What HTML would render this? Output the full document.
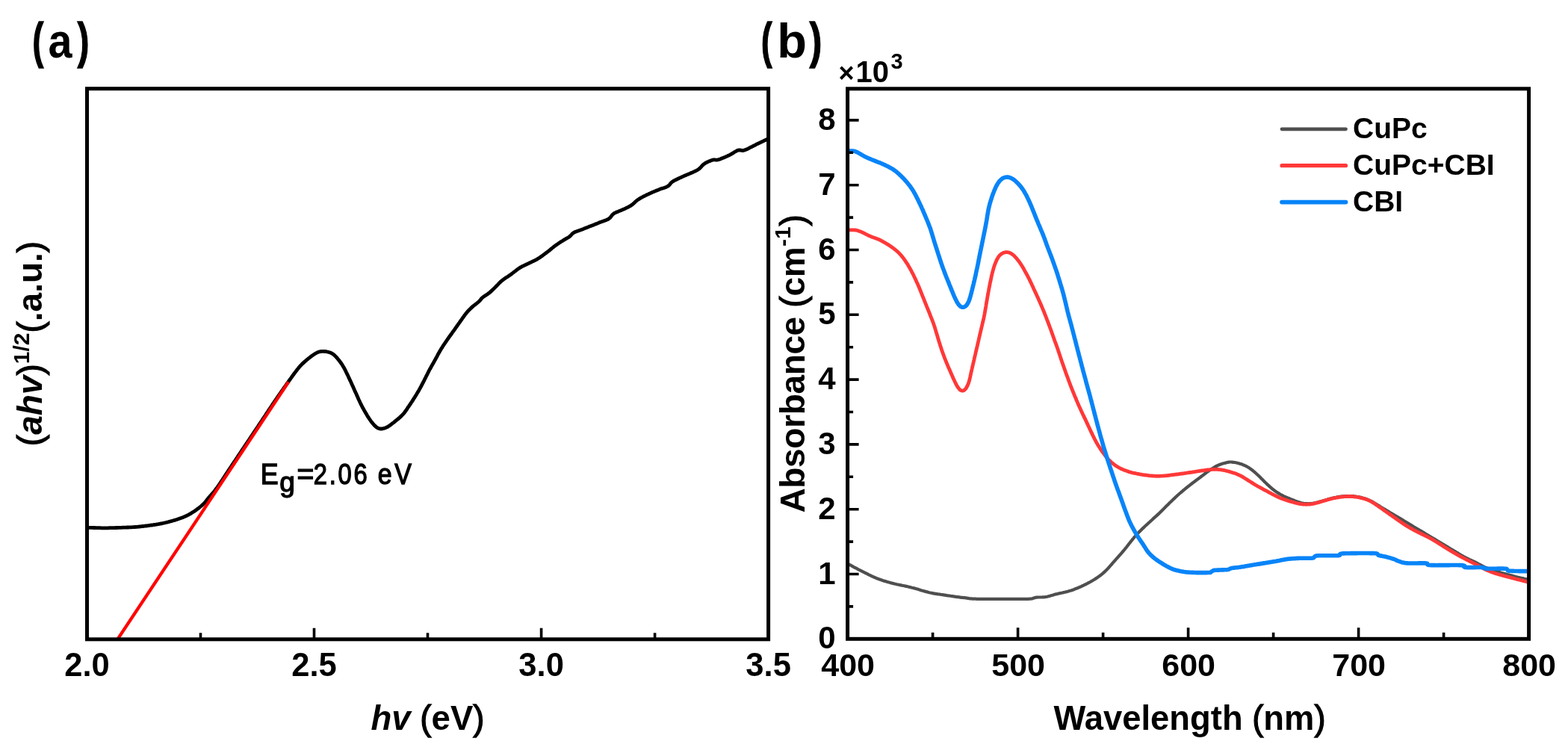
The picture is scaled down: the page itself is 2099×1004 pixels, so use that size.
<!DOCTYPE html><html><head><meta charset="utf-8"><style>html,body{margin:0;padding:0;background:#fff;overflow:hidden}svg{display:block}</style></head><body><svg width="2099" height="1004" viewBox="0 0 2099 1004" font-family="'Liberation Sans', Arial, Helvetica, sans-serif" font-weight="bold" fill="#000"><rect width="2099" height="1004" fill="#fff"/><defs><clipPath id="ca"><rect x="116.5" y="118.7" width="912.1" height="737.1"/></clipPath><clipPath id="cb"><rect x="1134.6" y="118.8" width="912.0" height="736.5"/></clipPath></defs><g clip-path="url(#ca)" fill="none" stroke-linejoin="round" stroke-linecap="round"><path d="M114.6,706.3L116.1,706.3 117.6,706.3 119.1,706.3 120.6,706.3 122.1,706.4 123.6,706.4 125.1,706.5 126.6,706.5 128.1,706.6 129.6,706.6 131.1,706.7 132.6,706.7 134.1,706.7 135.6,706.8 137.1,706.8 138.6,706.8 140.1,706.8 141.6,706.8 143.1,706.8 144.6,706.8 146.1,706.7 147.6,706.7 149.1,706.7 150.6,706.6 152.1,706.6 153.6,706.6 155.1,706.5 156.6,706.5 158.1,706.4 159.6,706.4 161.1,706.3 162.6,706.3 164.1,706.2 165.6,706.2 167.1,706.1 168.6,706.1 170.1,706.0 171.6,706.0 173.1,705.9 174.6,705.8 176.1,705.8 177.6,705.7 179.1,705.6 180.6,705.5 182.1,705.4 183.6,705.3 185.1,705.1 186.6,705.0 188.1,704.9 189.6,704.7 191.1,704.5 192.5,704.4 194.0,704.2 195.5,704.0 197.0,703.8 198.5,703.6 200.0,703.4 201.5,703.2 203.0,703.0 204.4,702.8 205.9,702.5 207.4,702.3 208.9,702.1 210.4,701.8 211.8,701.6 213.3,701.3 214.8,701.0 216.3,700.8 217.7,700.5 219.2,700.2 220.7,699.8 222.1,699.5 223.6,699.1 225.0,698.8 226.5,698.4 227.9,698.0 229.4,697.6 230.8,697.2 232.3,696.8 233.7,696.4 235.1,695.9 236.6,695.5 238.0,695.0 239.4,694.5 240.8,694.0 242.3,693.5 243.7,693.0 245.1,692.5 246.4,691.9 247.8,691.3 249.2,690.7 250.5,690.0 251.9,689.3 253.2,688.6 254.5,687.9 255.8,687.1 257.1,686.3 258.3,685.5 259.6,684.7 260.8,683.9 262.1,683.0 263.3,682.1 264.5,681.3 265.7,680.3 266.9,679.4 268.0,678.5 269.2,677.5 270.3,676.5 271.4,675.5 272.5,674.5 273.6,673.4 274.6,672.3 275.6,671.2 276.5,670.0 277.4,668.8 278.3,667.6 279.3,666.4 280.2,665.3 281.2,664.2 282.2,663.0 283.2,661.9 284.2,660.8 285.2,659.7 286.2,658.5 287.1,657.4 288.0,656.2 288.9,655.0 289.8,653.8 290.7,652.6 291.6,651.3 292.4,650.1 293.3,648.9 294.1,647.6 295.0,646.4 295.8,645.1 296.6,643.9 297.5,642.7 298.3,641.4 299.1,640.2 299.9,638.9 300.8,637.6 301.6,636.4 302.4,635.1 303.2,633.9 304.1,632.6 304.9,631.4 305.7,630.1 306.5,628.9 307.4,627.6 308.2,626.4 309.0,625.1 309.9,623.9 310.7,622.6 311.5,621.4 312.4,620.1 313.2,618.9 314.0,617.6 314.9,616.4 315.7,615.2 316.5,613.9 317.4,612.7 318.2,611.4 319.0,610.2 319.9,608.9 320.7,607.7 321.5,606.4 322.4,605.2 323.2,603.9 324.0,602.7 324.9,601.4 325.7,600.2 326.5,598.9 327.4,597.7 328.2,596.4 329.0,595.2 329.9,594.0 330.7,592.7 331.5,591.5 332.4,590.2 333.2,589.0 334.0,587.7 334.9,586.5 335.7,585.2 336.5,584.0 337.4,582.7 338.2,581.5 339.0,580.2 339.9,579.0 340.7,577.7 341.5,576.5 342.4,575.2 343.2,574.0 344.0,572.8 344.9,571.5 345.7,570.3 346.5,569.0 347.4,567.8 348.2,566.5 349.0,565.3 349.9,564.0 350.7,562.8 351.5,561.5 352.4,560.3 353.2,559.0 354.0,557.8 354.9,556.5 355.7,555.3 356.5,554.0 357.4,552.8 358.2,551.5 359.0,550.3 359.8,549.0 360.7,547.8 361.5,546.5 362.3,545.3 363.2,544.0 364.0,542.8 364.8,541.5 365.7,540.3 366.5,539.1 367.3,537.8 368.2,536.6 369.0,535.3 369.9,534.1 370.7,532.9 371.6,531.6 372.4,530.4 373.3,529.1 374.1,527.9 375.0,526.7 375.8,525.5 376.7,524.2 377.6,523.0 378.4,521.8 379.3,520.5 380.2,519.3 381.0,518.1 381.9,516.9 382.8,515.6 383.6,514.4 384.5,513.2 385.4,512.0 386.2,510.7 387.1,509.5 388.0,508.3 388.8,507.1 389.7,505.9 390.6,504.6 391.4,503.4 392.3,502.2 393.2,501.0 394.1,499.8 395.0,498.6 395.9,497.4 396.8,496.2 397.7,495.0 398.7,493.8 399.6,492.7 400.5,491.5 401.5,490.4 402.5,489.2 403.6,488.2 404.6,487.1 405.7,486.1 406.8,485.1 407.9,484.1 409.1,483.1 410.2,482.1 411.4,481.2 412.5,480.2 413.7,479.3 414.9,478.4 416.1,477.4 417.3,476.5 418.5,475.7 419.7,474.8 421.0,474.0 422.3,473.2 423.6,472.5 424.9,471.8 426.3,471.3 427.8,470.8 429.2,470.5 430.7,470.4 432.2,470.3 433.7,470.4 435.2,470.5 436.7,470.7 438.2,471.0 439.6,471.3 441.1,471.7 442.5,472.2 443.9,472.9 445.2,473.6 446.4,474.5 447.5,475.4 448.6,476.5 449.7,477.5 450.7,478.7 451.7,479.8 452.6,480.9 453.6,482.1 454.5,483.3 455.4,484.5 456.3,485.7 457.1,486.9 458.0,488.2 458.8,489.5 459.5,490.7 460.3,492.0 461.0,493.3 461.7,494.7 462.4,496.0 463.1,497.4 463.7,498.7 464.4,500.1 465.0,501.4 465.7,502.8 466.3,504.1 466.9,505.5 467.6,506.8 468.2,508.2 468.8,509.6 469.5,510.9 470.1,512.3 470.7,513.6 471.3,515.0 471.9,516.4 472.6,517.7 473.2,519.1 473.8,520.5 474.4,521.9 475.0,523.2 475.6,524.6 476.3,526.0 476.9,527.3 477.5,528.7 478.1,530.1 478.7,531.4 479.3,532.8 479.9,534.2 480.5,535.5 481.2,536.9 481.8,538.3 482.4,539.6 483.1,541.0 483.8,542.3 484.4,543.6 485.1,545.0 485.8,546.3 486.6,547.6 487.3,548.9 488.0,550.2 488.8,551.5 489.5,552.8 490.3,554.1 491.1,555.4 491.8,556.7 492.6,558.0 493.5,559.2 494.3,560.5 495.1,561.7 496.0,563.0 496.8,564.2 497.8,565.4 498.7,566.5 499.7,567.7 500.7,568.8 501.7,569.9 502.8,570.9 504.0,571.9 505.2,572.7 506.5,573.4 508.0,573.8 509.4,574.0 510.9,574.0 512.4,573.8 513.9,573.4 515.3,572.9 516.7,572.4 518.1,571.8 519.4,571.1 520.7,570.3 521.9,569.4 523.1,568.6 524.3,567.7 525.5,566.7 526.7,565.8 527.9,564.9 529.0,563.9 530.2,563.0 531.3,562.0 532.5,561.1 533.6,560.1 534.8,559.1 535.9,558.1 537.0,557.1 538.0,556.0 539.1,555.0 540.1,553.9 541.1,552.7 542.0,551.5 542.9,550.3 543.7,549.1 544.6,547.8 545.4,546.6 546.2,545.3 547.1,544.1 547.9,542.9 548.8,541.6 549.6,540.4 550.4,539.1 551.3,537.9 552.1,536.6 552.9,535.4 553.7,534.1 554.5,532.8 555.3,531.6 556.1,530.3 556.9,529.0 557.7,527.7 558.4,526.4 559.2,525.1 560.0,523.9 560.7,522.6 561.4,521.2 562.2,519.9 562.9,518.6 563.6,517.3 564.3,516.0 565.0,514.7 565.7,513.3 566.4,512.0 567.1,510.7 567.8,509.3 568.4,508.0 569.1,506.6 569.8,505.3 570.4,504.0 571.1,502.6 571.8,501.3 572.5,499.9 573.2,498.6 573.8,497.3 574.5,495.9 575.2,494.6 576.0,493.3 576.7,492.0 577.4,490.7 578.1,489.4 578.9,488.1 579.6,486.7 580.4,485.4 581.1,484.1 581.8,482.8 582.6,481.5 583.3,480.2 584.0,478.9 584.7,477.6 585.4,476.3 586.1,474.9 586.8,473.6 587.6,472.3 588.3,471.0 589.0,469.7 589.8,468.4 590.6,467.1 591.4,465.8 592.2,464.6 593.0,463.3 593.8,462.0 594.6,460.8 595.5,459.5 596.3,458.3 597.2,457.1 598.0,455.8 598.9,454.6 599.7,453.4 600.6,452.1 601.4,450.9 602.3,449.7 603.2,448.5 604.1,447.3 605.0,446.1 605.8,444.8 606.7,443.6 607.6,442.4 608.5,441.2 609.3,440.0 610.2,438.7 611.0,437.5 611.9,436.3 612.8,435.0 613.6,433.8 614.5,432.6 615.4,431.4 616.2,430.2 617.1,428.9 618.0,427.7 618.8,426.5 619.7,425.2 620.6,424.0 621.4,422.8 622.3,421.6 623.2,420.4 624.2,419.2 625.1,418.1 626.1,416.9 627.1,415.8 628.2,414.8 629.2,413.7 630.3,412.6 631.4,411.6 632.5,410.6 633.6,409.6 634.8,408.7 636.0,407.8 637.2,406.8 638.4,405.9 639.5,405.0 640.7,404.0 641.8,403.0 642.8,401.9 643.7,400.7 644.6,399.5 645.7,398.5 646.9,397.5 648.1,396.7 649.4,395.9 650.6,395.1 651.9,394.2 653.1,393.4 654.3,392.5 655.5,391.6 656.6,390.6 657.7,389.6 658.8,388.6 659.9,387.5 661.0,386.5 662.1,385.4 663.1,384.4 664.2,383.3 665.2,382.2 666.3,381.1 667.3,380.0 668.4,379.0 669.4,377.9 670.5,376.9 671.7,375.9 672.8,375.0 674.0,374.1 675.2,373.2 676.5,372.3 677.7,371.5 679.0,370.7 680.2,369.9 681.5,369.0 682.7,368.2 684.0,367.3 685.2,366.5 686.4,365.5 687.5,364.6 688.7,363.7 689.9,362.8 691.1,361.8 692.3,360.9 693.5,360.1 694.7,359.2 696.0,358.4 697.3,357.6 698.6,356.9 699.9,356.2 701.3,355.6 702.6,354.9 704.0,354.3 705.3,353.7 706.7,353.0 708.1,352.4 709.4,351.7 710.8,351.1 712.1,350.4 713.5,349.8 714.8,349.1 716.2,348.5 717.5,347.8 718.8,347.1 720.1,346.3 721.4,345.5 722.6,344.7 723.9,343.8 725.1,343.0 726.3,342.1 727.5,341.2 728.7,340.3 729.9,339.4 731.1,338.5 732.3,337.6 733.5,336.7 734.7,335.8 735.9,334.8 737.0,333.9 738.2,332.9 739.3,332.0 740.5,331.0 741.7,330.1 742.9,329.2 744.1,328.3 745.3,327.5 746.6,326.6 747.8,325.8 749.1,324.9 750.3,324.1 751.6,323.3 752.9,322.5 754.1,321.7 755.4,320.9 756.7,320.2 758.0,319.4 759.3,318.7 760.6,318.0 761.9,317.1 763.0,316.2 764.1,315.1 765.1,314.0 766.1,312.9 767.3,312.0 768.5,311.2 769.9,310.5 771.3,310.0 772.7,309.4 774.1,308.9 775.5,308.4 776.9,307.9 778.3,307.4 779.7,306.9 781.1,306.4 782.5,305.8 783.9,305.3 785.3,304.7 786.7,304.2 788.1,303.6 789.5,303.1 790.9,302.5 792.3,302.0 793.7,301.4 795.1,300.9 796.5,300.3 797.9,299.7 799.3,299.2 800.7,298.6 802.0,298.0 803.4,297.5 804.8,297.0 806.3,296.5 807.7,296.0 809.1,295.5 810.5,294.9 811.9,294.4 813.3,293.8 814.6,293.1 815.8,292.2 816.9,291.2 817.9,290.0 818.7,288.8 819.7,287.7 820.7,286.6 821.9,285.7 823.3,285.0 824.6,284.3 826.0,283.7 827.4,283.2 828.8,282.6 830.2,282.1 831.6,281.5 832.9,280.9 834.3,280.3 835.7,279.7 837.0,279.1 838.4,278.4 839.7,277.8 841.1,277.1 842.4,276.4 843.7,275.7 845.0,274.9 846.2,274.0 847.4,273.1 848.5,272.0 849.6,271.0 850.6,270.0 851.8,269.0 852.9,268.0 854.2,267.2 855.4,266.4 856.7,265.6 858.0,264.8 859.3,264.1 860.7,263.4 862.0,262.7 863.3,262.1 864.7,261.4 866.0,260.7 867.4,260.1 868.7,259.5 870.1,258.9 871.5,258.2 872.9,257.6 874.2,257.1 875.6,256.5 877.0,255.9 878.4,255.3 879.8,254.7 881.2,254.2 882.6,253.6 884.0,253.1 885.4,252.6 886.8,252.1 888.2,251.7 889.6,251.2 891.0,250.7 892.4,250.1 893.8,249.4 895.0,248.6 896.1,247.5 897.0,246.4 897.9,245.2 899.0,244.1 900.2,243.2 901.5,242.4 902.8,241.7 904.1,241.0 905.5,240.3 906.8,239.7 908.2,239.0 909.5,238.4 910.9,237.8 912.2,237.1 913.6,236.5 915.0,235.9 916.3,235.3 917.7,234.7 919.1,234.1 920.5,233.5 921.9,233.0 923.3,232.4 924.6,231.8 926.0,231.2 927.4,230.6 928.8,230.0 930.1,229.3 931.5,228.7 932.8,228.0 934.1,227.2 935.3,226.4 936.5,225.5 937.6,224.4 938.6,223.3 939.6,222.2 940.6,221.1 941.7,220.1 942.9,219.2 944.2,218.4 945.5,217.7 946.9,217.0 948.2,216.4 949.6,215.8 951.0,215.2 952.4,214.6 953.8,214.2 955.3,213.9 956.8,213.9 958.2,214.1 959.7,214.1 961.2,213.8 962.6,213.4 964.0,212.9 965.5,212.4 966.8,211.8 968.2,211.3 969.6,210.7 971.0,210.1 972.4,209.5 973.8,208.9 975.1,208.2 976.5,207.6 977.8,206.9 979.1,206.2 980.4,205.4 981.7,204.6 982.9,203.8 984.2,203.0 985.5,202.3 986.8,201.6 988.2,201.1 989.7,200.8 991.2,201.0 992.7,201.3 994.2,201.5 995.7,201.3 997.1,200.9 998.5,200.3 999.9,199.7 1001.2,199.1 1002.6,198.4 1003.9,197.7 1005.2,197.0 1006.6,196.3 1007.9,195.6 1009.2,195.0 1010.6,194.3 1011.9,193.6 1013.2,192.9 1014.6,192.3 1016.0,191.6 1017.3,191.0 1018.7,190.4 1020.0,189.7 1021.4,189.1 1022.7,188.4 1024.1,187.8 1025.4,187.1 1026.8,186.5 1028.1,185.8 1029.5,185.2 1030.8,184.6 1031.5,184.3" stroke="#000" stroke-width="4.8"/><path d="M155.9,858 L386.2,511.2" stroke="#f00" stroke-width="4.3" stroke-linecap="butt"/></g><path d="M420.5,855.8 V840.8 M724.6,855.8 V840.8 M268.5,855.8 V847.3 M572.5,855.8 V847.3 M876.6,855.8 V847.3" stroke="#000" stroke-width="3.6" fill="none"/><rect x="116.5" y="118.7" width="912.1" height="737.1" fill="none" stroke="#000" stroke-width="5"/><text class="t" transform="translate(116.5,904.8)" font-size="43.5" text-anchor="middle">2.0</text><text class="t" transform="translate(420.5,904.8)" font-size="43.5" text-anchor="middle">2.5</text><text class="t" transform="translate(724.6,904.8)" font-size="43.5" text-anchor="middle">3.0</text><text class="t" transform="translate(1028.6,904.8)" font-size="43.5" text-anchor="middle">3.5</text><text class="t" transform="translate(572.5,977) scale(1,1.06)" font-size="44" text-anchor="middle" textLength="152" lengthAdjust="spacingAndGlyphs"><tspan font-style="italic">hv</tspan> <tspan font-weight="normal" stroke="#000" stroke-width="1.2">(</tspan>eV<tspan font-weight="normal" stroke="#000" stroke-width="1.2">)</tspan></text><text class="t" transform="translate(56,460) rotate(-90)" font-size="46" text-anchor="middle"><tspan font-weight="normal" stroke="#000" stroke-width="1.2">(</tspan><tspan font-style="italic">ahv</tspan><tspan font-weight="normal" stroke="#000" stroke-width="1.2">)</tspan><tspan font-size="30" dy="-17">1/2</tspan><tspan dy="17" font-weight="normal" stroke="#000" stroke-width="1.2">(</tspan>.a.u.<tspan font-weight="normal" stroke="#000" stroke-width="1.2">)</tspan></text><g font-weight="normal" stroke="#000" stroke-width="1.40"><text transform="scale(0.92,1)" y="648.3" font-size="39"><tspan x="379.08">E</tspan></text><text transform="scale(1.0,1)" y="648.3" font-size="39"><tspan x="397.60">=</tspan></text><text transform="scale(0.84,1)" y="648.3" font-size="39"><tspan x="499.71">2</tspan><tspan x="524.77">.</tspan><tspan x="538.83">0</tspan><tspan x="563.85">6</tspan></text><text transform="scale(0.87,1)" y="648.3" font-size="39"><tspan x="581.45">e</tspan><tspan x="607.07">V</tspan></text><text transform="scale(1.0,1)" y="657.8" font-size="37"><tspan x="374.35">g</tspan></text></g><text transform="scale(0.66,1)" x="65.75" y="76.8" font-size="67" font-weight="bold" stroke="#000" stroke-width="1.6">(</text><text transform="scale(0.885,1)" x="73.01" y="77.0" font-size="65" font-weight="bold">a</text><text transform="scale(0.7,1)" x="148.36" y="76.8" font-size="67" font-weight="bold" stroke="#000" stroke-width="1.6">)</text><g clip-path="url(#cb)" fill="none" stroke-linejoin="round" stroke-linecap="round"><path d="M1134.0,754.8L1135.4,755.3 1136.8,755.8 1138.2,756.4 1139.5,757.1 1140.8,757.8 1142.1,758.6 1143.4,759.3 1144.8,760.0 1146.1,760.7 1147.4,761.4 1148.7,762.1 1150.1,762.8 1151.4,763.5 1152.8,764.1 1154.1,764.8 1155.4,765.5 1156.8,766.2 1158.1,766.8 1159.5,767.5 1160.8,768.2 1162.1,768.9 1163.5,769.6 1164.8,770.2 1166.2,770.9 1167.5,771.5 1168.9,772.1 1170.3,772.7 1171.6,773.3 1173.0,773.9 1174.4,774.4 1175.8,775.0 1177.2,775.5 1178.6,776.0 1180.1,776.5 1181.5,777.0 1182.9,777.4 1184.3,777.9 1185.8,778.3 1187.2,778.8 1188.7,779.2 1190.1,779.6 1191.5,780.0 1193.0,780.4 1194.4,780.7 1195.9,781.1 1197.4,781.5 1198.8,781.8 1200.3,782.2 1201.7,782.5 1203.2,782.8 1204.7,783.1 1206.1,783.4 1207.6,783.7 1209.1,784.0 1210.6,784.3 1212.0,784.6 1213.5,784.9 1215.0,785.2 1216.4,785.6 1217.9,785.9 1219.3,786.3 1220.8,786.7 1222.2,787.0 1223.7,787.4 1225.1,787.8 1226.6,788.2 1228.0,788.6 1229.5,789.1 1230.9,789.5 1232.3,789.9 1233.8,790.4 1235.2,790.8 1236.6,791.2 1238.1,791.6 1239.5,792.0 1241.0,792.4 1242.4,792.8 1243.9,793.2 1245.3,793.5 1246.8,793.8 1248.3,794.1 1249.7,794.4 1251.2,794.7 1252.7,794.9 1254.2,795.1 1255.7,795.3 1257.2,795.5 1258.6,795.7 1260.1,796.0 1261.6,796.2 1263.1,796.4 1264.6,796.6 1266.1,796.8 1267.6,797.1 1269.0,797.3 1270.5,797.5 1272.0,797.7 1273.5,798.0 1275.0,798.2 1276.4,798.4 1277.9,798.6 1279.4,798.8 1280.9,799.1 1282.4,799.2 1283.9,799.4 1285.4,799.6 1286.9,799.8 1288.4,799.9 1289.8,800.1 1291.3,800.2 1292.8,800.4 1294.3,800.6 1295.8,800.8 1297.3,801.1 1298.8,801.3 1300.3,801.4 1301.7,801.6 1303.2,801.6 1304.7,801.7 1306.2,801.7 1307.7,801.8 1309.2,801.8 1310.7,801.8 1312.2,801.8 1313.7,801.9 1315.2,801.9 1316.7,801.9 1318.2,801.9 1319.7,801.9 1321.2,801.9 1322.7,801.9 1324.2,801.9 1325.7,801.9 1327.2,801.9 1328.7,801.9 1330.2,801.9 1331.7,801.9 1333.2,801.9 1334.7,801.9 1336.2,801.9 1337.7,801.9 1339.2,801.9 1340.7,801.9 1342.2,801.9 1343.7,801.9 1345.2,801.9 1346.7,801.9 1348.2,801.9 1349.7,801.9 1351.2,801.9 1352.7,801.9 1354.2,801.9 1355.7,801.9 1357.2,801.9 1358.7,801.9 1360.2,801.9 1361.7,801.9 1363.2,801.9 1364.7,801.9 1366.2,801.9 1367.7,801.9 1369.2,801.9 1370.7,801.9 1372.2,801.9 1373.7,801.8 1375.2,801.8 1376.7,801.8 1378.2,801.7 1379.7,801.6 1381.2,801.4 1382.7,801.1 1384.1,800.6 1385.5,800.1 1387.0,799.7 1388.5,799.6 1390.0,799.5 1391.5,799.5 1393.0,799.5 1394.5,799.5 1396.0,799.4 1397.5,799.3 1398.9,799.2 1400.4,799.0 1401.9,798.7 1403.4,798.3 1404.8,797.9 1406.3,797.5 1407.7,797.1 1409.1,796.7 1410.6,796.2 1412.0,795.8 1413.5,795.4 1414.9,795.1 1416.4,794.7 1417.8,794.4 1419.3,794.1 1420.8,793.8 1422.2,793.5 1423.7,793.1 1425.2,792.8 1426.6,792.4 1428.1,792.1 1429.5,791.7 1431.0,791.2 1432.4,790.8 1433.8,790.4 1435.2,789.9 1436.7,789.4 1438.1,788.9 1439.5,788.3 1440.9,787.8 1442.3,787.2 1443.6,786.7 1445.0,786.1 1446.4,785.5 1447.8,784.9 1449.1,784.2 1450.5,783.6 1451.8,782.9 1453.2,782.3 1454.5,781.6 1455.9,780.9 1457.2,780.2 1458.5,779.5 1459.8,778.8 1461.1,778.0 1462.4,777.3 1463.7,776.5 1465.0,775.7 1466.2,774.9 1467.5,774.1 1468.8,773.3 1470.0,772.4 1471.2,771.5 1472.4,770.7 1473.6,769.8 1474.8,768.8 1476.0,767.9 1477.1,766.9 1478.2,765.9 1479.3,764.9 1480.4,763.8 1481.5,762.8 1482.5,761.7 1483.5,760.6 1484.5,759.5 1485.5,758.3 1486.5,757.2 1487.5,756.1 1488.5,755.0 1489.4,753.8 1490.4,752.7 1491.4,751.6 1492.4,750.5 1493.4,749.3 1494.4,748.2 1495.4,747.1 1496.4,746.0 1497.4,744.9 1498.4,743.7 1499.4,742.6 1500.4,741.5 1501.4,740.3 1502.4,739.2 1503.3,738.1 1504.3,736.9 1505.3,735.8 1506.2,734.6 1507.1,733.4 1508.1,732.3 1509.0,731.1 1509.9,729.9 1510.8,728.7 1511.7,727.5 1512.7,726.3 1513.6,725.2 1514.5,724.0 1515.5,722.8 1516.4,721.7 1517.4,720.5 1518.3,719.3 1519.3,718.2 1520.3,717.1 1521.3,716.0 1522.3,714.9 1523.3,713.8 1524.4,712.7 1525.4,711.6 1526.5,710.6 1527.6,709.5 1528.6,708.4 1529.7,707.4 1530.8,706.4 1531.9,705.3 1533.0,704.3 1534.1,703.3 1535.2,702.2 1536.3,701.2 1537.4,700.2 1538.5,699.2 1539.6,698.2 1540.7,697.2 1541.8,696.2 1542.9,695.2 1544.0,694.1 1545.1,693.1 1546.2,692.1 1547.4,691.1 1548.5,690.1 1549.6,689.1 1550.7,688.1 1551.8,687.1 1552.9,686.0 1553.9,685.0 1555.0,683.9 1556.1,682.9 1557.1,681.8 1558.2,680.8 1559.2,679.7 1560.3,678.6 1561.3,677.6 1562.4,676.5 1563.5,675.4 1564.5,674.4 1565.6,673.3 1566.7,672.3 1567.8,671.2 1568.8,670.2 1569.9,669.2 1571.0,668.1 1572.1,667.1 1573.2,666.1 1574.3,665.0 1575.4,664.0 1576.5,663.0 1577.6,662.0 1578.7,661.0 1579.9,660.0 1581.0,659.1 1582.1,658.1 1583.3,657.1 1584.4,656.1 1585.6,655.2 1586.7,654.2 1587.9,653.3 1589.1,652.3 1590.3,651.4 1591.4,650.5 1592.6,649.6 1593.8,648.6 1595.0,647.7 1596.2,646.8 1597.4,645.9 1598.6,645.0 1599.7,644.1 1600.9,643.2 1602.2,642.3 1603.4,641.4 1604.6,640.5 1605.8,639.6 1607.0,638.7 1608.2,637.8 1609.4,636.9 1610.6,636.0 1611.8,635.1 1612.9,634.2 1614.1,633.3 1615.3,632.4 1616.5,631.5 1617.8,630.6 1619.0,629.7 1620.2,628.9 1621.5,628.1 1622.7,627.3 1624.0,626.5 1625.3,625.7 1626.6,624.9 1627.9,624.2 1629.3,623.5 1630.6,622.9 1632.0,622.3 1633.4,621.7 1634.8,621.2 1636.2,620.8 1637.7,620.3 1639.1,620.0 1640.6,619.6 1642.0,619.2 1643.5,618.9 1645.0,618.7 1646.5,618.5 1648.0,618.5 1649.5,618.6 1650.9,618.8 1652.4,619.0 1653.9,619.2 1655.4,619.5 1656.8,619.9 1658.3,620.2 1659.7,620.7 1661.2,621.1 1662.6,621.6 1664.0,622.2 1665.3,622.7 1666.7,623.4 1668.1,624.0 1669.4,624.7 1670.7,625.5 1672.0,626.3 1673.2,627.1 1674.4,628.0 1675.6,628.9 1676.8,629.8 1678.0,630.7 1679.1,631.7 1680.3,632.7 1681.4,633.7 1682.5,634.7 1683.6,635.7 1684.7,636.7 1685.8,637.8 1686.8,638.8 1687.9,639.9 1688.9,641.0 1690.0,642.1 1691.0,643.1 1692.1,644.2 1693.1,645.3 1694.2,646.3 1695.3,647.3 1696.4,648.4 1697.5,649.4 1698.6,650.4 1699.7,651.4 1700.8,652.4 1702.0,653.4 1703.1,654.3 1704.3,655.3 1705.5,656.2 1706.7,657.1 1707.9,658.0 1709.1,658.8 1710.4,659.6 1711.7,660.4 1713.0,661.2 1714.3,662.0 1715.6,662.7 1716.9,663.4 1718.2,664.1 1719.6,664.7 1720.9,665.3 1722.3,665.9 1723.7,666.5 1725.1,667.1 1726.5,667.6 1727.9,668.2 1729.3,668.7 1730.7,669.3 1732.1,669.8 1733.5,670.4 1734.9,670.9 1736.3,671.4 1737.7,671.9 1739.1,672.4 1740.6,672.8 1742.0,673.2 1743.5,673.5 1744.9,673.8 1746.4,674.0 1747.9,674.2 1749.4,674.2 1750.9,674.3 1752.4,674.2 1753.9,674.1 1755.4,674.0 1756.9,673.8 1758.4,673.6 1759.8,673.3 1761.3,673.0 1762.8,672.6 1764.2,672.3 1765.7,671.9 1767.1,671.5 1768.6,671.1 1770.0,670.7 1771.4,670.2 1772.9,669.8 1774.3,669.4 1775.8,668.9 1777.2,668.5 1778.6,668.1 1780.1,667.7 1781.5,667.3 1783.0,667.0 1784.5,666.6 1785.9,666.3 1787.4,666.0 1788.9,665.7 1790.3,665.4 1791.8,665.2 1793.3,664.9 1794.8,664.7 1796.3,664.6 1797.8,664.4 1799.3,664.3 1800.8,664.2 1802.3,664.1 1803.8,664.1 1805.3,664.0 1806.8,664.0 1808.3,664.1 1809.7,664.1 1811.2,664.2 1812.7,664.4 1814.2,664.5 1815.7,664.8 1817.2,665.0 1818.7,665.3 1820.1,665.6 1821.6,665.9 1823.1,666.3 1824.5,666.7 1825.9,667.1 1827.4,667.5 1828.8,668.0 1830.2,668.5 1831.6,669.1 1833.0,669.7 1834.3,670.3 1835.7,671.0 1837.0,671.7 1838.3,672.4 1839.6,673.2 1840.9,674.0 1842.2,674.7 1843.4,675.5 1844.7,676.3 1846.0,677.1 1847.3,677.9 1848.5,678.7 1849.8,679.5 1851.1,680.3 1852.4,681.0 1853.7,681.8 1854.9,682.6 1856.2,683.4 1857.5,684.2 1858.8,684.9 1860.1,685.7 1861.4,686.5 1862.7,687.2 1864.0,688.0 1865.3,688.7 1866.5,689.5 1867.8,690.3 1869.1,691.0 1870.4,691.8 1871.7,692.6 1873.0,693.3 1874.3,694.1 1875.6,694.9 1876.9,695.6 1878.1,696.4 1879.4,697.2 1880.7,698.0 1882.0,698.7 1883.3,699.5 1884.6,700.3 1885.8,701.1 1887.1,701.9 1888.4,702.6 1889.7,703.4 1891.0,704.2 1892.3,705.0 1893.5,705.7 1894.8,706.5 1896.1,707.3 1897.4,708.0 1898.7,708.8 1900.0,709.6 1901.3,710.3 1902.6,711.1 1903.9,711.9 1905.1,712.6 1906.4,713.4 1907.7,714.2 1909.0,715.0 1910.3,715.7 1911.6,716.5 1912.9,717.3 1914.1,718.0 1915.4,718.8 1916.7,719.6 1918.0,720.3 1919.3,721.1 1920.6,721.9 1921.9,722.7 1923.2,723.4 1924.4,724.2 1925.7,725.0 1927.0,725.7 1928.3,726.5 1929.6,727.3 1930.9,728.1 1932.2,728.8 1933.4,729.6 1934.7,730.4 1936.0,731.2 1937.3,731.9 1938.6,732.7 1939.9,733.5 1941.1,734.3 1942.4,735.0 1943.7,735.8 1945.0,736.6 1946.3,737.4 1947.6,738.1 1948.9,738.9 1950.1,739.7 1951.4,740.4 1952.7,741.2 1954.0,742.0 1955.3,742.7 1956.6,743.5 1957.9,744.2 1959.2,745.0 1960.5,745.7 1961.8,746.4 1963.2,747.1 1964.5,747.8 1965.9,748.4 1967.2,749.1 1968.6,749.7 1970.0,750.3 1971.3,750.9 1972.7,751.5 1974.0,752.2 1975.4,752.8 1976.7,753.5 1978.0,754.2 1979.4,755.0 1980.7,755.7 1982.0,756.4 1983.3,757.1 1984.6,757.8 1986.0,758.4 1987.4,759.1 1988.7,759.7 1990.1,760.3 1991.5,760.8 1992.9,761.4 1994.3,761.9 1995.7,762.4 1997.1,762.9 1998.5,763.4 2000.0,763.9 2001.4,764.3 2002.8,764.8 2004.3,765.2 2005.7,765.7 2007.1,766.1 2008.6,766.5 2010.0,766.9 2011.5,767.3 2012.9,767.7 2014.4,768.1 2015.8,768.5 2017.3,768.9 2018.7,769.2 2020.2,769.6 2021.6,770.0 2023.1,770.4 2024.5,770.8 2025.9,771.2 2027.4,771.6 2028.9,772.0 2030.3,772.3 2031.8,772.7 2033.2,773.0 2034.7,773.4 2036.2,773.7 2037.6,774.0 2039.1,774.3 2040.5,774.7 2042.0,775.0 2043.5,775.3 2044.9,775.6 2046.4,775.9 2047.9,776.3 2048.2,776.3" stroke="#4f4f4f" stroke-width="4.2"/><path d="M1134.0,307.9L1135.5,307.9 1137.0,307.9 1138.5,307.8 1140.0,307.8 1141.5,307.8 1143.0,307.9 1144.5,308.0 1146.0,308.2 1147.5,308.5 1148.9,308.9 1150.3,309.4 1151.7,309.9 1153.1,310.5 1154.5,311.1 1155.8,311.8 1157.2,312.4 1158.5,313.1 1159.9,313.8 1161.2,314.5 1162.5,315.2 1163.9,315.8 1165.3,316.4 1166.6,317.0 1168.0,317.5 1169.5,318.0 1170.9,318.5 1172.3,319.0 1173.7,319.5 1175.1,320.1 1176.5,320.6 1177.9,321.3 1179.2,321.9 1180.5,322.6 1181.8,323.3 1183.2,324.1 1184.5,324.8 1185.7,325.6 1187.0,326.4 1188.3,327.1 1189.6,327.9 1190.8,328.8 1192.1,329.6 1193.3,330.5 1194.5,331.3 1195.7,332.2 1196.9,333.1 1198.1,334.0 1199.3,335.0 1200.4,336.0 1201.6,336.9 1202.6,338.0 1203.7,339.0 1204.7,340.1 1205.7,341.2 1206.7,342.4 1207.7,343.6 1208.6,344.7 1209.5,345.9 1210.4,347.1 1211.3,348.4 1212.1,349.6 1212.9,350.8 1213.8,352.1 1214.6,353.3 1215.4,354.6 1216.1,355.9 1216.9,357.2 1217.6,358.5 1218.4,359.8 1219.1,361.1 1219.8,362.4 1220.5,363.8 1221.2,365.1 1221.9,366.4 1222.6,367.8 1223.2,369.1 1223.9,370.5 1224.5,371.8 1225.1,373.2 1225.8,374.5 1226.4,375.9 1227.0,377.3 1227.7,378.6 1228.3,380.0 1228.9,381.4 1229.5,382.8 1230.1,384.1 1230.7,385.5 1231.2,386.9 1231.8,388.3 1232.4,389.7 1232.9,391.1 1233.5,392.5 1234.0,393.9 1234.6,395.3 1235.1,396.6 1235.7,398.0 1236.2,399.4 1236.8,400.8 1237.4,402.2 1237.9,403.6 1238.5,405.0 1239.0,406.4 1239.6,407.8 1240.2,409.2 1240.7,410.6 1241.3,412.0 1241.8,413.3 1242.4,414.7 1243.0,416.1 1243.5,417.5 1244.1,418.9 1244.6,420.3 1245.2,421.7 1245.7,423.1 1246.3,424.5 1246.8,425.9 1247.4,427.3 1247.9,428.7 1248.5,430.1 1249.0,431.5 1249.5,432.9 1250.0,434.3 1250.5,435.7 1251.0,437.2 1251.4,438.6 1251.9,440.0 1252.3,441.5 1252.7,442.9 1253.1,444.3 1253.6,445.8 1254.0,447.2 1254.4,448.6 1254.9,450.1 1255.3,451.5 1255.7,453.0 1256.2,454.4 1256.6,455.8 1257.0,457.3 1257.5,458.7 1257.9,460.1 1258.4,461.6 1258.8,463.0 1259.3,464.4 1259.8,465.8 1260.2,467.3 1260.7,468.7 1261.2,470.1 1261.7,471.5 1262.2,472.9 1262.7,474.3 1263.2,475.7 1263.8,477.2 1264.3,478.6 1264.8,480.0 1265.4,481.4 1265.9,482.7 1266.5,484.1 1267.0,485.5 1267.6,486.9 1268.2,488.3 1268.8,489.7 1269.4,491.1 1269.9,492.4 1270.6,493.8 1271.2,495.2 1271.8,496.6 1272.4,497.9 1273.0,499.3 1273.6,500.7 1274.2,502.0 1274.8,503.4 1275.4,504.8 1276.0,506.2 1276.6,507.5 1277.3,508.9 1277.9,510.3 1278.5,511.6 1279.2,513.0 1279.9,514.3 1280.6,515.6 1281.3,516.9 1282.1,518.2 1283.0,519.4 1283.9,520.6 1284.9,521.7 1286.2,522.6 1287.6,523.1 1289.0,523.1 1290.4,522.5 1291.6,521.6 1292.6,520.5 1293.5,519.3 1294.2,518.0 1294.9,516.7 1295.5,515.3 1296.1,513.9 1296.6,512.5 1297.1,511.1 1297.5,509.6 1297.9,508.2 1298.2,506.7 1298.6,505.3 1298.9,503.8 1299.2,502.3 1299.5,500.9 1299.8,499.4 1300.2,497.9 1300.5,496.5 1300.8,495.0 1301.2,493.5 1301.5,492.1 1301.8,490.6 1302.2,489.1 1302.5,487.7 1302.8,486.2 1303.2,484.8 1303.5,483.3 1303.9,481.8 1304.2,480.4 1304.5,478.9 1304.9,477.5 1305.2,476.0 1305.6,474.5 1305.9,473.1 1306.2,471.6 1306.6,470.2 1306.9,468.7 1307.3,467.2 1307.6,465.8 1307.9,464.3 1308.3,462.8 1308.6,461.4 1309.0,459.9 1309.3,458.5 1309.6,457.0 1310.0,455.5 1310.3,454.1 1310.6,452.6 1311.0,451.2 1311.3,449.7 1311.7,448.2 1312.0,446.8 1312.3,445.3 1312.7,443.9 1313.0,442.4 1313.4,440.9 1313.7,439.5 1314.0,438.0 1314.4,436.5 1314.7,435.1 1315.1,433.6 1315.4,432.2 1315.8,430.7 1316.1,429.2 1316.4,427.8 1316.8,426.3 1317.1,424.9 1317.4,423.4 1317.7,421.9 1318.0,420.4 1318.2,419.0 1318.5,417.5 1318.8,416.0 1319.0,414.5 1319.3,413.1 1319.5,411.6 1319.8,410.1 1320.0,408.6 1320.2,407.1 1320.5,405.7 1320.7,404.2 1321.0,402.7 1321.3,401.2 1321.5,399.7 1321.8,398.3 1322.0,396.8 1322.3,395.3 1322.6,393.8 1322.8,392.4 1323.1,390.9 1323.4,389.4 1323.6,387.9 1323.9,386.5 1324.2,385.0 1324.5,383.5 1324.8,382.0 1325.1,380.6 1325.3,379.1 1325.6,377.6 1326.0,376.2 1326.3,374.7 1326.6,373.2 1326.9,371.8 1327.2,370.3 1327.5,368.8 1327.9,367.4 1328.2,365.9 1328.6,364.5 1329.0,363.0 1329.4,361.6 1329.8,360.1 1330.2,358.7 1330.6,357.2 1331.1,355.8 1331.6,354.4 1332.1,353.0 1332.7,351.6 1333.3,350.2 1333.9,348.8 1334.5,347.5 1335.2,346.2 1336.0,344.9 1336.8,343.6 1337.7,342.4 1338.8,341.3 1339.9,340.4 1341.1,339.5 1342.4,338.8 1343.8,338.2 1345.3,337.8 1346.7,337.6 1348.2,337.7 1349.7,337.9 1351.2,338.3 1352.6,338.9 1353.9,339.6 1355.1,340.4 1356.3,341.3 1357.4,342.3 1358.5,343.4 1359.5,344.5 1360.5,345.6 1361.5,346.8 1362.4,347.9 1363.3,349.1 1364.3,350.3 1365.1,351.5 1366.0,352.8 1366.8,354.0 1367.6,355.3 1368.4,356.5 1369.2,357.8 1369.9,359.1 1370.7,360.4 1371.4,361.8 1372.1,363.1 1372.8,364.4 1373.6,365.7 1374.3,367.0 1375.0,368.3 1375.7,369.7 1376.4,371.0 1377.1,372.3 1377.8,373.7 1378.4,375.0 1379.1,376.3 1379.7,377.7 1380.4,379.1 1381.0,380.4 1381.6,381.8 1382.3,383.1 1382.9,384.5 1383.5,385.9 1384.1,387.2 1384.8,388.6 1385.4,390.0 1386.0,391.3 1386.6,392.7 1387.3,394.0 1387.9,395.4 1388.5,396.8 1389.2,398.1 1389.8,399.5 1390.4,400.9 1391.0,402.2 1391.6,403.6 1392.2,405.0 1392.8,406.3 1393.4,407.7 1394.0,409.1 1394.6,410.5 1395.2,411.9 1395.8,413.2 1396.3,414.6 1396.9,416.0 1397.5,417.4 1398.0,418.8 1398.6,420.2 1399.1,421.6 1399.7,423.0 1400.2,424.4 1400.8,425.8 1401.3,427.2 1401.8,428.6 1402.4,430.0 1402.9,431.4 1403.4,432.8 1404.0,434.2 1404.5,435.6 1405.0,437.0 1405.5,438.4 1406.1,439.8 1406.6,441.2 1407.1,442.6 1407.6,444.0 1408.1,445.5 1408.6,446.9 1409.1,448.3 1409.6,449.7 1410.1,451.1 1410.6,452.5 1411.1,453.9 1411.6,455.4 1412.1,456.8 1412.6,458.2 1413.2,459.6 1413.7,461.0 1414.2,462.4 1414.7,463.8 1415.2,465.2 1415.7,466.6 1416.2,468.1 1416.7,469.5 1417.1,470.9 1417.6,472.3 1418.1,473.7 1418.6,475.2 1419.0,476.6 1419.5,478.0 1420.0,479.4 1420.4,480.9 1420.9,482.3 1421.4,483.7 1421.9,485.1 1422.4,486.5 1422.9,488.0 1423.4,489.4 1423.9,490.8 1424.4,492.2 1424.9,493.6 1425.4,495.0 1425.9,496.4 1426.4,497.9 1426.9,499.3 1427.4,500.7 1427.9,502.1 1428.4,503.5 1429.0,504.9 1429.5,506.3 1430.0,507.7 1430.5,509.1 1431.0,510.5 1431.5,511.9 1432.1,513.4 1432.6,514.8 1433.1,516.2 1433.7,517.6 1434.2,519.0 1434.8,520.4 1435.3,521.7 1435.9,523.1 1436.4,524.5 1437.0,525.9 1437.6,527.3 1438.1,528.7 1438.7,530.1 1439.3,531.5 1439.9,532.8 1440.5,534.2 1441.0,535.6 1441.6,537.0 1442.2,538.4 1442.8,539.7 1443.4,541.1 1444.0,542.5 1444.6,543.9 1445.2,545.2 1445.9,546.6 1446.5,548.0 1447.1,549.3 1447.7,550.7 1448.4,552.1 1449.0,553.4 1449.6,554.8 1450.3,556.1 1450.9,557.5 1451.6,558.8 1452.2,560.2 1452.9,561.5 1453.5,562.9 1454.2,564.2 1454.8,565.6 1455.4,567.0 1456.1,568.3 1456.7,569.7 1457.3,571.0 1458.0,572.4 1458.6,573.8 1459.2,575.1 1459.9,576.5 1460.5,577.8 1461.1,579.2 1461.8,580.5 1462.4,581.9 1463.1,583.2 1463.8,584.6 1464.4,585.9 1465.1,587.3 1465.8,588.6 1466.5,589.9 1467.2,591.3 1467.9,592.6 1468.7,593.9 1469.4,595.2 1470.2,596.5 1471.0,597.7 1471.8,599.0 1472.6,600.2 1473.4,601.5 1474.3,602.7 1475.1,604.0 1476.0,605.2 1476.9,606.4 1477.8,607.6 1478.7,608.8 1479.6,610.0 1480.5,611.2 1481.5,612.3 1482.4,613.5 1483.4,614.6 1484.5,615.7 1485.5,616.8 1486.6,617.8 1487.7,618.8 1488.9,619.8 1490.0,620.7 1491.2,621.7 1492.4,622.6 1493.6,623.4 1494.9,624.2 1496.2,625.0 1497.5,625.8 1498.8,626.5 1500.1,627.2 1501.5,627.8 1502.8,628.4 1504.2,629.0 1505.6,629.6 1507.0,630.1 1508.4,630.6 1509.8,631.1 1511.3,631.6 1512.7,632.0 1514.1,632.4 1515.6,632.8 1517.1,633.1 1518.5,633.4 1520.0,633.7 1521.5,634.0 1523.0,634.3 1524.4,634.5 1525.9,634.8 1527.4,635.1 1528.9,635.4 1530.3,635.6 1531.8,635.8 1533.3,636.0 1534.8,636.2 1536.3,636.4 1537.8,636.6 1539.3,636.8 1540.7,636.9 1542.2,637.0 1543.7,637.2 1545.2,637.2 1546.7,637.3 1548.2,637.3 1549.7,637.3 1551.2,637.3 1552.7,637.3 1554.2,637.2 1555.7,637.2 1557.2,637.1 1558.7,636.9 1560.2,636.8 1561.7,636.6 1563.2,636.5 1564.7,636.3 1566.2,636.1 1567.7,635.9 1569.2,635.7 1570.6,635.6 1572.1,635.4 1573.6,635.2 1575.1,635.0 1576.6,634.8 1578.1,634.6 1579.6,634.4 1581.1,634.2 1582.5,634.0 1584.0,633.8 1585.5,633.6 1587.0,633.4 1588.5,633.2 1590.0,632.9 1591.4,632.7 1592.9,632.5 1594.4,632.3 1595.9,632.0 1597.4,631.8 1598.9,631.6 1600.3,631.4 1601.8,631.2 1603.3,630.9 1604.8,630.7 1606.3,630.5 1607.8,630.2 1609.2,630.0 1610.7,629.8 1612.2,629.6 1613.7,629.4 1615.2,629.2 1616.7,629.0 1618.2,628.8 1619.7,628.7 1621.1,628.5 1622.6,628.4 1624.1,628.3 1625.6,628.3 1627.1,628.3 1628.6,628.3 1630.1,628.4 1631.6,628.6 1633.1,628.7 1634.6,628.9 1636.1,629.2 1637.6,629.4 1639.0,629.7 1640.5,630.0 1642.0,630.4 1643.4,630.7 1644.9,631.1 1646.3,631.5 1647.7,632.0 1649.2,632.4 1650.6,632.9 1652.0,633.3 1653.5,633.8 1654.9,634.3 1656.3,634.9 1657.6,635.4 1659.0,636.1 1660.4,636.7 1661.7,637.4 1663.0,638.2 1664.3,638.9 1665.6,639.7 1666.8,640.5 1668.1,641.3 1669.4,642.1 1670.6,642.9 1671.9,643.7 1673.2,644.5 1674.4,645.3 1675.7,646.1 1677.0,646.9 1678.3,647.7 1679.5,648.5 1680.8,649.3 1682.1,650.0 1683.4,650.8 1684.7,651.5 1686.0,652.2 1687.3,652.9 1688.7,653.7 1690.0,654.4 1691.3,655.1 1692.6,655.8 1694.0,656.5 1695.3,657.2 1696.6,657.9 1697.9,658.6 1699.2,659.3 1700.6,660.0 1701.9,660.8 1703.2,661.5 1704.5,662.1 1705.9,662.8 1707.2,663.5 1708.6,664.2 1709.9,664.8 1711.3,665.5 1712.6,666.1 1714.0,666.7 1715.4,667.2 1716.8,667.8 1718.2,668.3 1719.6,668.8 1721.0,669.3 1722.5,669.8 1723.9,670.2 1725.3,670.7 1726.8,671.1 1728.2,671.5 1729.7,671.9 1731.1,672.3 1732.5,672.7 1734.0,673.1 1735.4,673.5 1736.9,673.8 1738.4,674.2 1739.8,674.5 1741.3,674.7 1742.8,674.9 1744.3,675.1 1745.8,675.2 1747.3,675.2 1748.8,675.3 1750.3,675.2 1751.8,675.2 1753.3,675.0 1754.8,674.9 1756.3,674.6 1757.7,674.4 1759.2,674.1 1760.7,673.7 1762.1,673.3 1763.6,673.0 1765.0,672.6 1766.5,672.2 1767.9,671.8 1769.3,671.3 1770.8,670.9 1772.2,670.5 1773.6,670.0 1775.1,669.6 1776.5,669.2 1778.0,668.8 1779.4,668.4 1780.9,668.0 1782.3,667.7 1783.8,667.3 1785.2,666.9 1786.7,666.6 1788.2,666.3 1789.6,666.0 1791.1,665.8 1792.6,665.6 1794.1,665.3 1795.6,665.2 1797.1,665.0 1798.6,664.8 1800.1,664.7 1801.6,664.6 1803.1,664.6 1804.6,664.5 1806.1,664.5 1807.6,664.5 1809.0,664.6 1810.5,664.7 1812.0,664.8 1813.5,665.0 1815.0,665.2 1816.5,665.4 1818.0,665.6 1819.5,665.9 1820.9,666.3 1822.4,666.6 1823.8,667.0 1825.3,667.4 1826.7,667.8 1828.1,668.3 1829.6,668.8 1831.0,669.3 1832.3,669.9 1833.7,670.5 1835.0,671.2 1836.4,671.9 1837.6,672.7 1838.9,673.5 1840.2,674.3 1841.4,675.2 1842.6,676.0 1843.9,676.9 1845.1,677.7 1846.3,678.6 1847.6,679.4 1848.8,680.3 1850.0,681.1 1851.3,682.0 1852.5,682.9 1853.7,683.7 1854.9,684.6 1856.2,685.5 1857.4,686.3 1858.6,687.2 1859.8,688.1 1861.1,688.9 1862.3,689.8 1863.5,690.6 1864.7,691.5 1866.0,692.4 1867.2,693.2 1868.4,694.1 1869.7,694.9 1870.9,695.8 1872.1,696.7 1873.3,697.5 1874.6,698.4 1875.8,699.3 1877.0,700.1 1878.3,701.0 1879.5,701.8 1880.8,702.6 1882.0,703.4 1883.3,704.2 1884.6,705.0 1885.9,705.8 1887.2,706.5 1888.5,707.3 1889.8,708.0 1891.1,708.7 1892.4,709.5 1893.7,710.2 1895.1,710.8 1896.4,711.5 1897.7,712.2 1899.1,712.8 1900.4,713.5 1901.8,714.2 1903.1,714.8 1904.5,715.5 1905.8,716.1 1907.2,716.8 1908.5,717.5 1909.9,718.1 1911.2,718.8 1912.5,719.5 1913.8,720.2 1915.2,721.0 1916.5,721.7 1917.8,722.4 1919.1,723.2 1920.3,724.0 1921.6,724.7 1922.9,725.5 1924.2,726.3 1925.5,727.1 1926.7,727.9 1928.0,728.7 1929.3,729.5 1930.5,730.3 1931.8,731.1 1933.1,731.9 1934.3,732.7 1935.6,733.5 1936.9,734.3 1938.2,735.1 1939.5,735.8 1940.7,736.6 1942.0,737.4 1943.3,738.1 1944.6,738.9 1945.9,739.7 1947.2,740.4 1948.5,741.2 1949.8,741.9 1951.1,742.7 1952.4,743.4 1953.7,744.1 1955.0,744.9 1956.4,745.6 1957.7,746.3 1959.0,747.0 1960.3,747.7 1961.7,748.4 1963.0,749.1 1964.3,749.8 1965.7,750.4 1967.0,751.1 1968.3,751.8 1969.7,752.4 1971.0,753.1 1972.4,753.8 1973.7,754.5 1975.0,755.2 1976.4,755.9 1977.7,756.6 1979.0,757.3 1980.3,758.1 1981.6,758.8 1982.9,759.5 1984.2,760.2 1985.6,760.9 1986.9,761.6 1988.3,762.2 1989.6,762.9 1991.0,763.5 1992.4,764.0 1993.8,764.6 1995.2,765.2 1996.6,765.7 1998.0,766.2 1999.4,766.7 2000.8,767.2 2002.2,767.7 2003.7,768.1 2005.1,768.6 2006.5,769.0 2008.0,769.4 2009.4,769.8 2010.9,770.2 2012.3,770.6 2013.8,771.0 2015.2,771.4 2016.7,771.7 2018.1,772.1 2019.6,772.5 2021.0,772.9 2022.5,773.2 2023.9,773.6 2025.4,774.0 2026.8,774.4 2028.3,774.8 2029.7,775.2 2031.2,775.6 2032.6,775.9 2034.1,776.3 2035.5,776.7 2037.0,777.0 2038.4,777.4 2039.9,777.8 2041.4,778.1 2042.8,778.5 2044.3,778.8 2045.7,779.2 2047.2,779.5 2048.1,779.8" stroke="#ff3838" stroke-width="4.8"/><path d="M1134.0,202.3L1135.5,202.2 1137.0,202.1 1138.5,202.1 1140.0,202.0 1141.5,202.1 1143.0,202.3 1144.5,202.6 1145.9,203.1 1147.3,203.7 1148.6,204.3 1149.9,205.1 1151.2,205.8 1152.5,206.6 1153.8,207.4 1155.1,208.1 1156.4,208.9 1157.7,209.6 1159.1,210.2 1160.4,210.9 1161.8,211.5 1163.2,212.1 1164.5,212.7 1165.9,213.2 1167.3,213.8 1168.7,214.3 1170.1,214.9 1171.5,215.5 1172.9,216.0 1174.3,216.6 1175.7,217.1 1177.1,217.7 1178.5,218.2 1179.9,218.8 1181.2,219.4 1182.6,220.0 1184.0,220.6 1185.3,221.2 1186.7,221.9 1188.0,222.6 1189.4,223.3 1190.7,224.0 1192.0,224.7 1193.3,225.4 1194.6,226.2 1195.9,227.0 1197.1,227.8 1198.3,228.7 1199.5,229.6 1200.7,230.6 1201.8,231.6 1202.9,232.5 1204.0,233.6 1205.1,234.6 1206.2,235.6 1207.3,236.7 1208.3,237.7 1209.4,238.8 1210.4,239.9 1211.4,241.0 1212.4,242.2 1213.4,243.3 1214.4,244.4 1215.3,245.6 1216.2,246.8 1217.2,248.0 1218.1,249.1 1219.0,250.4 1219.8,251.6 1220.7,252.8 1221.5,254.1 1222.3,255.3 1223.1,256.6 1223.8,257.9 1224.6,259.2 1225.3,260.5 1226.0,261.9 1226.7,263.2 1227.3,264.5 1228.0,265.9 1228.7,267.2 1229.3,268.6 1230.0,269.9 1230.6,271.3 1231.3,272.6 1231.9,274.0 1232.6,275.3 1233.2,276.7 1233.8,278.1 1234.4,279.4 1235.1,280.8 1235.7,282.2 1236.2,283.6 1236.8,284.9 1237.4,286.3 1238.0,287.7 1238.6,289.1 1239.2,290.5 1239.7,291.9 1240.3,293.2 1240.9,294.6 1241.5,296.0 1242.0,297.4 1242.6,298.8 1243.2,300.2 1243.7,301.6 1244.2,303.0 1244.8,304.4 1245.3,305.8 1245.8,307.2 1246.2,308.6 1246.7,310.1 1247.1,311.5 1247.5,312.9 1248.0,314.4 1248.4,315.8 1248.8,317.3 1249.3,318.7 1249.7,320.1 1250.1,321.6 1250.5,323.0 1251.0,324.4 1251.4,325.9 1251.9,327.3 1252.3,328.7 1252.8,330.2 1253.3,331.6 1253.7,333.0 1254.2,334.4 1254.6,335.9 1255.1,337.3 1255.6,338.7 1256.0,340.1 1256.5,341.6 1257.0,343.0 1257.4,344.4 1257.9,345.9 1258.3,347.3 1258.8,348.7 1259.3,350.1 1259.7,351.6 1260.2,353.0 1260.7,354.4 1261.2,355.8 1261.7,357.2 1262.2,358.6 1262.7,360.0 1263.3,361.5 1263.8,362.9 1264.3,364.3 1264.8,365.7 1265.4,367.1 1265.9,368.5 1266.5,369.9 1267.0,371.3 1267.6,372.6 1268.1,374.0 1268.7,375.4 1269.3,376.8 1269.8,378.2 1270.4,379.6 1270.9,381.0 1271.5,382.4 1272.1,383.8 1272.6,385.2 1273.2,386.6 1273.7,388.0 1274.3,389.3 1274.9,390.7 1275.5,392.1 1276.0,393.5 1276.6,394.9 1277.2,396.3 1277.8,397.6 1278.4,399.0 1279.1,400.4 1279.7,401.7 1280.4,403.0 1281.1,404.4 1281.9,405.7 1282.7,406.9 1283.6,408.1 1284.6,409.2 1285.7,410.2 1287.0,410.9 1288.5,411.2 1290.0,411.1 1291.4,410.6 1292.6,409.7 1293.7,408.7 1294.6,407.5 1295.4,406.2 1296.1,404.9 1296.8,403.5 1297.3,402.1 1297.8,400.7 1298.3,399.3 1298.7,397.9 1299.1,396.4 1299.5,395.0 1299.9,393.5 1300.3,392.1 1300.6,390.6 1301.0,389.2 1301.4,387.7 1301.7,386.3 1302.1,384.8 1302.5,383.3 1302.8,381.9 1303.2,380.4 1303.5,379.0 1303.9,377.5 1304.2,376.1 1304.6,374.6 1304.9,373.1 1305.2,371.7 1305.6,370.2 1305.9,368.7 1306.2,367.3 1306.5,365.8 1306.8,364.3 1307.1,362.9 1307.4,361.4 1307.8,359.9 1308.1,358.5 1308.4,357.0 1308.7,355.5 1309.0,354.1 1309.3,352.6 1309.6,351.1 1309.9,349.6 1310.1,348.2 1310.4,346.7 1310.7,345.2 1311.0,343.8 1311.3,342.3 1311.6,340.8 1311.9,339.4 1312.2,337.9 1312.5,336.4 1312.8,334.9 1313.1,333.5 1313.4,332.0 1313.7,330.5 1314.0,329.1 1314.3,327.6 1314.6,326.1 1314.9,324.6 1315.2,323.2 1315.5,321.7 1315.8,320.2 1316.1,318.8 1316.4,317.3 1316.7,315.8 1317.0,314.4 1317.3,312.9 1317.6,311.4 1317.9,310.0 1318.2,308.5 1318.5,307.0 1318.8,305.5 1319.1,304.1 1319.4,302.6 1319.6,301.1 1319.9,299.6 1320.2,298.2 1320.4,296.7 1320.7,295.2 1320.9,293.7 1321.2,292.3 1321.4,290.8 1321.6,289.3 1321.9,287.8 1322.2,286.3 1322.4,284.9 1322.7,283.4 1322.9,281.9 1323.2,280.4 1323.5,279.0 1323.9,277.5 1324.2,276.0 1324.6,274.6 1324.9,273.1 1325.3,271.7 1325.8,270.3 1326.2,268.8 1326.7,267.4 1327.1,266.0 1327.6,264.5 1328.0,263.1 1328.5,261.7 1329.0,260.3 1329.5,258.9 1330.1,257.5 1330.6,256.1 1331.2,254.7 1331.8,253.3 1332.4,251.9 1333.0,250.6 1333.7,249.2 1334.4,247.9 1335.1,246.6 1335.9,245.3 1336.8,244.1 1337.6,242.9 1338.6,241.7 1339.7,240.7 1340.8,239.7 1342.1,238.8 1343.4,238.1 1344.8,237.6 1346.2,237.2 1347.7,237.1 1349.2,237.1 1350.7,237.4 1352.1,237.9 1353.5,238.4 1354.8,239.1 1356.1,239.9 1357.3,240.7 1358.5,241.7 1359.7,242.7 1360.8,243.7 1361.8,244.7 1362.9,245.8 1363.9,246.9 1364.9,248.0 1365.9,249.1 1366.8,250.3 1367.7,251.5 1368.6,252.7 1369.5,254.0 1370.3,255.2 1371.0,256.5 1371.8,257.8 1372.5,259.1 1373.3,260.4 1374.0,261.7 1374.7,263.1 1375.3,264.4 1376.0,265.8 1376.6,267.1 1377.3,268.5 1377.9,269.8 1378.5,271.2 1379.1,272.6 1379.7,274.0 1380.3,275.3 1380.9,276.7 1381.4,278.1 1382.0,279.5 1382.5,280.9 1383.1,282.3 1383.7,283.7 1384.2,285.1 1384.8,286.5 1385.3,287.9 1385.9,289.3 1386.4,290.7 1387.0,292.1 1387.5,293.4 1388.1,294.8 1388.7,296.2 1389.3,297.6 1389.8,299.0 1390.4,300.4 1391.0,301.7 1391.6,303.1 1392.2,304.5 1392.8,305.9 1393.3,307.3 1393.9,308.6 1394.5,310.0 1395.1,311.4 1395.7,312.8 1396.2,314.2 1396.8,315.6 1397.3,317.0 1397.9,318.4 1398.4,319.8 1398.9,321.2 1399.4,322.6 1399.9,324.0 1400.4,325.4 1400.9,326.9 1401.4,328.3 1402.0,329.7 1402.5,331.1 1403.0,332.5 1403.6,333.9 1404.1,335.3 1404.7,336.7 1405.2,338.1 1405.7,339.5 1406.3,340.9 1406.8,342.3 1407.3,343.7 1407.9,345.1 1408.4,346.5 1408.9,347.9 1409.4,349.3 1409.9,350.7 1410.4,352.1 1410.9,353.5 1411.4,354.9 1411.9,356.4 1412.4,357.8 1412.9,359.2 1413.4,360.6 1413.9,362.0 1414.4,363.5 1414.8,364.9 1415.3,366.3 1415.8,367.7 1416.2,369.2 1416.6,370.6 1417.1,372.0 1417.5,373.5 1418.0,374.9 1418.4,376.3 1418.8,377.8 1419.3,379.2 1419.7,380.6 1420.2,382.1 1420.6,383.5 1421.0,384.9 1421.5,386.4 1421.9,387.8 1422.3,389.3 1422.7,390.7 1423.1,392.2 1423.5,393.6 1423.9,395.1 1424.2,396.5 1424.6,398.0 1425.0,399.4 1425.3,400.9 1425.7,402.3 1426.0,403.8 1426.4,405.2 1426.7,406.7 1427.1,408.2 1427.4,409.6 1427.8,411.1 1428.1,412.5 1428.4,414.0 1428.8,415.5 1429.1,416.9 1429.5,418.4 1429.9,419.8 1430.2,421.3 1430.6,422.7 1431.0,424.2 1431.4,425.6 1431.8,427.1 1432.2,428.5 1432.6,430.0 1433.0,431.4 1433.4,432.9 1433.8,434.3 1434.2,435.8 1434.6,437.2 1434.9,438.7 1435.3,440.1 1435.7,441.6 1436.1,443.0 1436.5,444.5 1436.8,445.9 1437.2,447.4 1437.6,448.8 1438.0,450.3 1438.3,451.7 1438.7,453.2 1439.1,454.6 1439.5,456.1 1439.8,457.5 1440.2,459.0 1440.6,460.4 1440.9,461.9 1441.3,463.4 1441.7,464.8 1442.1,466.3 1442.4,467.7 1442.8,469.2 1443.2,470.6 1443.6,472.1 1443.9,473.5 1444.3,475.0 1444.7,476.4 1445.1,477.9 1445.5,479.3 1445.8,480.8 1446.2,482.2 1446.6,483.7 1447.0,485.1 1447.4,486.6 1447.7,488.0 1448.1,489.5 1448.5,490.9 1448.9,492.4 1449.3,493.8 1449.6,495.3 1450.0,496.7 1450.4,498.2 1450.8,499.6 1451.2,501.1 1451.6,502.5 1452.0,504.0 1452.4,505.4 1452.8,506.9 1453.2,508.3 1453.5,509.8 1453.9,511.2 1454.3,512.7 1454.7,514.1 1455.1,515.6 1455.5,517.0 1455.9,518.5 1456.3,519.9 1456.7,521.3 1457.1,522.8 1457.5,524.2 1457.9,525.7 1458.3,527.1 1458.7,528.6 1459.1,530.0 1459.5,531.5 1459.8,532.9 1460.2,534.4 1460.6,535.8 1461.0,537.3 1461.4,538.7 1461.7,540.2 1462.1,541.6 1462.5,543.1 1462.9,544.5 1463.2,546.0 1463.6,547.4 1464.0,548.9 1464.4,550.3 1464.7,551.8 1465.1,553.3 1465.5,554.7 1465.9,556.2 1466.3,557.6 1466.6,559.1 1467.0,560.5 1467.4,562.0 1467.8,563.4 1468.2,564.9 1468.5,566.3 1468.9,567.8 1469.3,569.2 1469.7,570.7 1470.1,572.1 1470.5,573.6 1470.9,575.0 1471.3,576.5 1471.7,577.9 1472.1,579.3 1472.4,580.8 1472.8,582.2 1473.2,583.7 1473.6,585.1 1474.0,586.6 1474.5,588.0 1474.9,589.5 1475.3,590.9 1475.7,592.4 1476.1,593.8 1476.5,595.2 1476.9,596.7 1477.3,598.1 1477.8,599.6 1478.2,601.0 1478.6,602.4 1479.1,603.9 1479.5,605.3 1480.0,606.7 1480.4,608.2 1480.9,609.6 1481.3,611.0 1481.8,612.5 1482.2,613.9 1482.7,615.3 1483.1,616.7 1483.6,618.2 1484.1,619.6 1484.5,621.0 1485.0,622.4 1485.5,623.9 1485.9,625.3 1486.4,626.7 1486.9,628.1 1487.4,629.6 1487.8,631.0 1488.3,632.4 1488.8,633.8 1489.3,635.3 1489.7,636.7 1490.2,638.1 1490.7,639.5 1491.2,640.9 1491.6,642.4 1492.1,643.8 1492.6,645.2 1493.1,646.6 1493.6,648.0 1494.1,649.5 1494.6,650.9 1495.1,652.3 1495.6,653.7 1496.1,655.1 1496.6,656.5 1497.2,657.9 1497.7,659.3 1498.2,660.7 1498.7,662.1 1499.2,663.5 1499.7,664.9 1500.3,666.4 1500.8,667.8 1501.3,669.2 1501.8,670.6 1502.3,672.0 1502.8,673.4 1503.3,674.8 1503.8,676.3 1504.3,677.7 1504.8,679.1 1505.3,680.5 1505.8,681.9 1506.3,683.3 1506.9,684.7 1507.4,686.1 1507.9,687.5 1508.4,688.9 1508.9,690.3 1509.5,691.7 1510.0,693.1 1510.6,694.5 1511.1,695.9 1511.7,697.3 1512.3,698.7 1513.0,700.0 1513.6,701.4 1514.3,702.7 1515.0,704.1 1515.7,705.4 1516.4,706.7 1517.1,708.0 1517.8,709.3 1518.6,710.6 1519.3,711.9 1520.1,713.2 1520.8,714.5 1521.6,715.8 1522.4,717.1 1523.2,718.4 1524.0,719.6 1524.8,720.9 1525.7,722.1 1526.5,723.4 1527.3,724.6 1528.2,725.8 1529.0,727.1 1529.9,728.3 1530.7,729.6 1531.5,730.9 1532.3,732.1 1533.1,733.4 1533.9,734.7 1534.7,735.9 1535.5,737.2 1536.4,738.4 1537.4,739.6 1538.3,740.7 1539.3,741.8 1540.4,742.9 1541.5,743.9 1542.6,744.9 1543.7,745.9 1544.9,746.8 1546.1,747.8 1547.2,748.7 1548.5,749.6 1549.7,750.4 1550.9,751.3 1552.2,752.1 1553.4,752.9 1554.7,753.7 1556.0,754.5 1557.3,755.3 1558.5,756.1 1559.8,756.8 1561.1,757.6 1562.4,758.3 1563.8,759.0 1565.1,759.7 1566.4,760.4 1567.8,761.0 1569.2,761.6 1570.6,762.2 1572.0,762.6 1573.4,763.1 1574.9,763.4 1576.3,763.8 1577.8,764.1 1579.3,764.4 1580.8,764.7 1582.2,764.9 1583.7,765.2 1585.2,765.5 1586.7,765.7 1588.2,765.9 1589.6,766.0 1591.1,766.1 1592.6,766.2 1594.1,766.3 1595.6,766.4 1597.1,766.4 1598.6,766.5 1600.1,766.5 1601.6,766.6 1603.1,766.6 1604.6,766.6 1606.1,766.6 1607.6,766.6 1609.1,766.6 1610.6,766.6 1612.1,766.6 1613.6,766.6 1615.1,766.6 1616.6,766.5 1618.1,766.5 1619.2,766.5" stroke="#0884f8" stroke-width="5.6"/><path d="M1620.3,766.3L1621.5,765.5 1622.7,764.6 1624.0,763.8 1625.4,763.4 1626.9,763.2 1628.4,763.2 1629.9,763.1 1631.4,763.1 1632.9,763.0 1634.4,763.0 1635.9,762.9 1637.4,762.9 1638.9,762.8 1640.4,762.8 1641.9,762.7 1643.4,762.5 1644.8,762.2 1646.2,761.5 1647.5,760.9 1649.0,760.5 1650.5,760.3 1651.9,760.1 1653.4,760.0 1654.9,759.8 1656.4,759.7 1657.9,759.5 1659.4,759.3 1660.9,759.1 1662.4,758.8 1663.9,758.6 1665.3,758.4 1666.8,758.1 1668.3,757.8 1669.8,757.6 1671.2,757.3 1672.7,757.1 1674.2,756.8 1675.7,756.6 1677.2,756.3 1678.6,756.1 1680.1,755.8 1681.6,755.6 1683.1,755.3 1684.6,755.1 1686.0,754.9 1687.5,754.6 1689.0,754.4 1690.5,754.1 1692.0,753.9 1693.4,753.7 1694.9,753.4 1696.4,753.2 1697.9,752.9 1699.4,752.7 1700.8,752.4 1702.3,752.2 1703.8,751.9 1705.3,751.7 1706.8,751.4 1708.2,751.2 1709.7,750.9 1711.2,750.7 1712.7,750.4 1714.1,750.1 1715.6,749.8 1717.1,749.5 1718.5,749.2 1720.0,748.9 1721.5,748.7 1723.0,748.4 1724.5,748.3 1726.0,748.1 1727.5,748.0 1729.0,747.9 1730.4,747.8 1731.9,747.7 1733.4,747.6 1734.9,747.5 1736.4,747.4 1737.9,747.4 1739.4,747.3 1740.9,747.2 1742.4,747.2 1743.9,747.2 1745.4,747.2 1746.9,747.2 1748.4,747.2 1749.9,747.2 1751.4,747.2 1752.9,747.2 1754.4,747.2 1755.9,747.2 1757.4,747.0 1758.8,746.6 1759.6,745.3 1760.7,744.4 1762.2,744.0 1763.7,743.9 1765.2,743.8 1766.7,743.8 1768.2,743.8 1769.7,743.8 1771.2,743.8 1772.7,743.8 1774.2,743.8 1775.7,743.8 1777.2,743.8 1778.7,743.8 1780.2,743.8 1781.7,743.8 1783.2,743.8 1784.7,743.8 1786.2,743.8 1787.7,743.8 1789.2,743.7 1790.7,743.7 1792.1,743.6 1793.6,743.2 1793.7,741.8 1795.0,741.2 1796.5,741.0 1798.0,740.9 1799.5,740.9 1801.0,740.8 1802.5,740.8 1804.0,740.7 1805.5,740.7 1807.0,740.7 1808.5,740.6 1810.0,740.6 1811.5,740.6 1813.0,740.6 1814.5,740.6 1816.0,740.6 1817.5,740.5 1819.0,740.5 1820.5,740.5 1822.0,740.5 1823.5,740.5 1825.0,740.5 1826.5,740.5 1828.0,740.5 1829.5,740.5 1831.0,740.5 1832.5,740.5 1834.0,740.6 1835.5,740.6 1837.0,740.6 1838.5,740.6 1840.0,740.7 1841.5,740.8 1843.0,741.0 1844.3,741.7 1844.8,743.1 1846.2,743.6 1847.7,743.9 1849.2,744.1 1850.7,744.4 1852.1,744.7 1853.6,745.0 1855.1,745.3 1856.5,745.7 1858.0,746.1 1859.4,746.5 1860.9,746.9 1862.3,747.3 1863.7,747.8 1865.1,748.2 1866.6,748.7 1868.0,749.3 1869.3,750.0 1870.6,750.7 1872.0,751.2 1873.4,751.7 1874.9,752.2 1876.3,752.7 1877.7,753.0 1879.2,753.3 1880.7,753.6 1882.2,753.8 1883.7,753.9 1885.2,754.0 1886.7,754.0 1888.2,754.0 1889.7,754.0 1891.2,754.0 1892.7,754.0 1894.2,754.0 1895.7,754.0 1897.2,754.0 1898.7,753.9 1900.2,753.9 1901.7,753.9 1903.2,753.9 1904.7,753.9 1906.2,753.9 1907.7,753.9 1909.2,754.0 1910.6,754.2 1910.6,755.4 1911.5,756.3 1913.0,756.5 1914.5,756.5 1916.0,756.6 1917.5,756.6 1919.0,756.6 1920.5,756.6 1922.0,756.7 1923.5,756.7 1925.0,756.6 1926.5,756.6 1928.0,756.6 1929.5,756.6 1931.0,756.6 1932.5,756.6 1934.0,756.6 1935.5,756.6 1937.0,756.6 1938.5,756.6 1940.0,756.6 1941.5,756.5 1943.0,756.5 1944.5,756.5 1946.0,756.5 1947.5,756.5 1949.0,756.5 1950.5,756.5 1952.0,756.5 1953.5,756.6 1955.0,756.6 1956.5,756.6 1958.0,756.7 1959.4,756.9 1960.6,757.5 1959.7,758.7 1960.8,759.4 1962.3,759.5 1963.8,759.6 1965.3,759.6 1966.8,759.6 1968.3,759.6 1969.8,759.6 1971.3,759.6 1972.8,759.6 1974.3,759.6 1975.8,759.5 1977.3,759.5 1978.8,759.5 1980.3,759.5 1981.8,759.5 1983.3,759.5 1984.8,759.6 1986.3,759.7 1987.1,760.6 1988.4,761.2 1989.9,761.2 1991.4,761.3 1992.9,761.3 1994.4,761.3 1995.9,761.3 1997.4,761.2 1998.9,761.2 2000.4,761.2 2001.9,761.2 2003.4,761.2 2004.9,761.1 2006.4,761.1 2007.9,761.1 2009.4,761.1 2010.9,761.1 2012.4,761.1 2013.9,761.2 2015.4,761.3 2016.9,761.5 2017.7,762.5 2018.4,763.8 2019.8,764.1 2021.3,764.2 2022.8,764.3 2024.3,764.4 2025.8,764.4 2027.3,764.5 2028.8,764.5 2030.3,764.5 2031.8,764.5 2033.3,764.6 2034.8,764.6 2036.3,764.6 2037.8,764.6 2039.3,764.6 2040.8,764.6 2042.3,764.6 2043.8,764.6 2045.3,764.7 2046.8,764.7 2048.3,764.7 2048.8,764.7" stroke="#0884f8" stroke-width="5.6"/></g><path d="M1134.6,768.5 H1149.6 M1134.6,681.7 H1149.6 M1134.6,594.9 H1149.6 M1134.6,508.1 H1149.6 M1134.6,421.3 H1149.6 M1134.6,334.5 H1149.6 M1134.6,247.7 H1149.6 M1134.6,160.9 H1149.6 M1134.6,811.9 H1142.1 M1134.6,725.1 H1142.1 M1134.6,638.3 H1142.1 M1134.6,551.5 H1142.1 M1134.6,464.7 H1142.1 M1134.6,377.9 H1142.1 M1134.6,291.1 H1142.1 M1134.6,204.3 H1142.1 M1362.6,855.3 V840.3 M1590.6,855.3 V840.3 M1818.6,855.3 V840.3 M1248.6,855.3 V846.8 M1476.6,855.3 V846.8 M1704.6,855.3 V846.8 M1932.6,855.3 V846.8" stroke="#000" stroke-width="3.6" fill="none"/><rect x="1134.6" y="118.8" width="912.0" height="736.5" fill="none" stroke="#000" stroke-width="5"/><text class="t" x="1118.5" y="868.3" font-size="42" text-anchor="end">0</text><text class="t" x="1118.5" y="781.5" font-size="42" text-anchor="end">1</text><text class="t" x="1118.5" y="694.7" font-size="42" text-anchor="end">2</text><text class="t" x="1118.5" y="607.9" font-size="42" text-anchor="end">3</text><text class="t" x="1118.5" y="521.1" font-size="42" text-anchor="end">4</text><text class="t" x="1118.5" y="434.3" font-size="42" text-anchor="end">5</text><text class="t" x="1118.5" y="347.5" font-size="42" text-anchor="end">6</text><text class="t" x="1118.5" y="260.7" font-size="42" text-anchor="end">7</text><text class="t" x="1118.5" y="173.9" font-size="42" text-anchor="end">8</text><text class="t" transform="translate(1135.1,904.8)" font-size="43" text-anchor="middle">400</text><text class="t" transform="translate(1363.1,904.8)" font-size="43" text-anchor="middle">500</text><text class="t" transform="translate(1591.1,904.8)" font-size="43" text-anchor="middle">600</text><text class="t" transform="translate(1819.1,904.8)" font-size="43" text-anchor="middle">700</text><text class="t" transform="translate(2047.1,904.8)" font-size="43" text-anchor="middle">800</text><text class="t" transform="translate(1592.6,977) scale(1,1.06)" font-size="44" text-anchor="middle" textLength="364" lengthAdjust="spacingAndGlyphs">Wavelength <tspan font-weight="normal" stroke="#000" stroke-width="1.2">(</tspan>nm<tspan font-weight="normal" stroke="#000" stroke-width="1.2">)</tspan></text><text class="t" transform="translate(1077,486.8) rotate(-90)" font-size="46" text-anchor="middle"><tspan letter-spacing="-0.35">Absorbance </tspan><tspan font-weight="normal" stroke="#000" stroke-width="1.2">(</tspan><tspan letter-spacing="-0.35">cm</tspan><tspan font-size="30" dy="-19.5" dx="0.5">-1</tspan><tspan dy="19.5" dx="1" font-weight="normal" stroke="#000" stroke-width="1.2">)</tspan></text><text class="t" x="1122.5" y="110" font-size="40"><tspan font-size="36">×</tspan><tspan dx="2">10</tspan><tspan font-size="29" dy="-18" dx="2.5">3</tspan></text><text transform="scale(0.65,1)" x="1567.74" y="76.8" font-size="67" font-weight="bold" stroke="#000" stroke-width="1.6">(</text><text transform="scale(1.0,1)" x="1040.22" y="77.0" font-size="65" font-weight="bold">b</text><text transform="scale(0.74,1)" x="1464.66" y="76.8" font-size="67" font-weight="bold" stroke="#000" stroke-width="1.6">)</text><line x1="1716" y1="172.8" x2="1801.5" y2="172.8" stroke="#4f4f4f" stroke-width="4.8" stroke-linecap="round"/><text class="t" x="1811" y="184.8" font-size="39">CuPc</text><line x1="1716" y1="221.7" x2="1801.5" y2="221.7" stroke="#ff3838" stroke-width="5.2" stroke-linecap="round"/><text class="t" x="1811" y="233.7" font-size="39">CuPc+CBI</text><line x1="1716" y1="270.6" x2="1801.5" y2="270.6" stroke="#0884f8" stroke-width="5.8" stroke-linecap="round"/><text class="t" x="1811" y="282.6" font-size="39">CBI</text></svg></body></html>
